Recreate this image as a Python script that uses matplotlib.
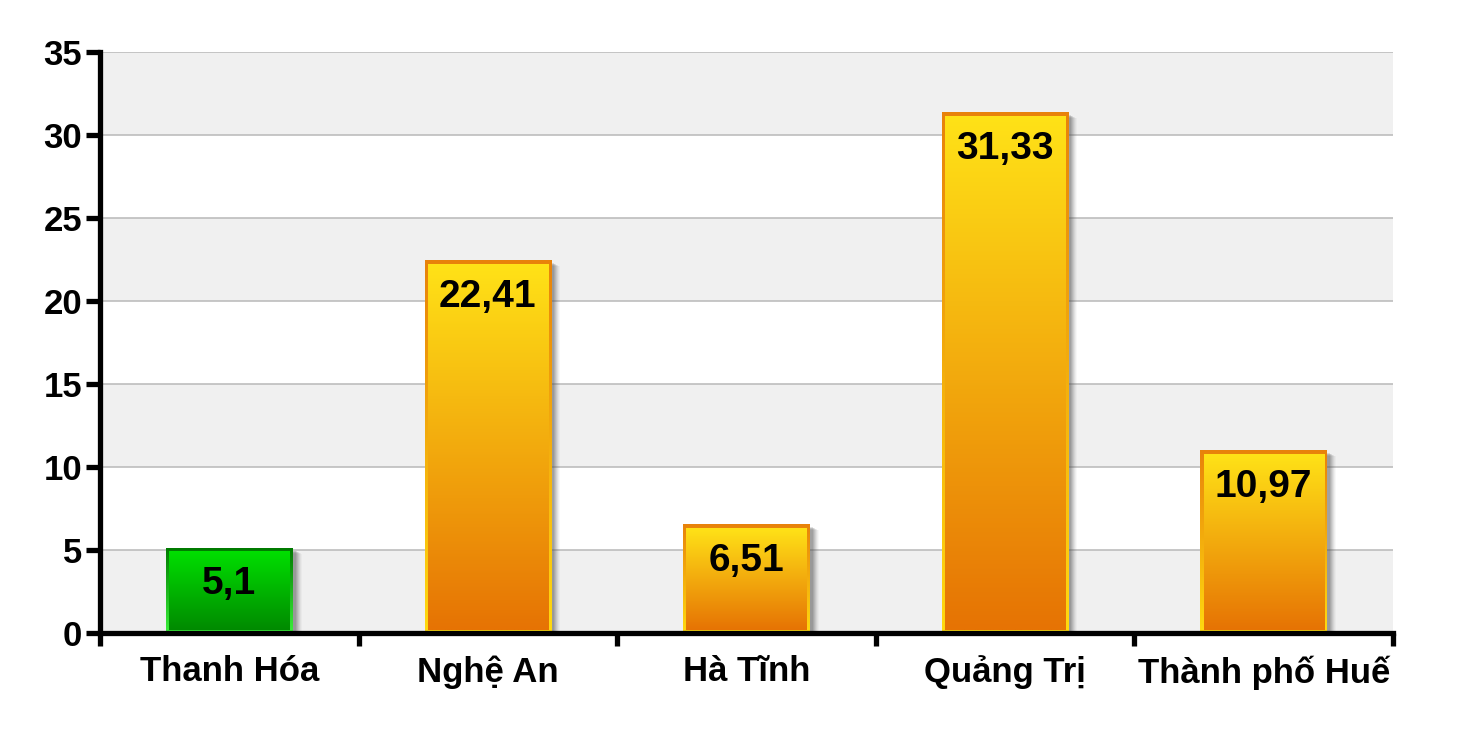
import matplotlib
matplotlib.use("Agg")
import matplotlib.pyplot as plt
import numpy as np
from matplotlib.colors import to_rgb
from matplotlib.patches import Rectangle

categories = ["Thanh Hóa", "Nghệ An", "Hà Tĩnh", "Quảng Trị", "Thành phố Huế"]
values = [5.1, 22.41, 6.51, 31.33, 10.97]
labels = ["5,1", "22,41", "6,51", "31,33", "10,97"]
is_green = [True, False, False, False, False]
yticks = [0, 5, 10, 15, 20, 25, 30, 35]

plt.rcParams['font.family'] = ['Liberation Sans', 'DejaVu Sans']

W, H = 1471, 729
fig = plt.figure(figsize=(W / 100, H / 100), dpi=100)
L, R, T, B = 100, 1393, 52, 633
ax = fig.add_axes([L / W, (H - B) / H, (R - L) / W, (B - T) / H])
ax.set_xlim(-0.5, len(categories) - 0.5)
ax.set_ylim(0, 35)

px_x = (len(categories)) / (R - L)   # data units per pixel (x)
px_y = 35 / (B - T)                  # data units per pixel (y)

# background bands
for i, y0 in enumerate(range(0, 35, 5)):
    if i % 2 == 0:
        ax.axhspan(y0, y0 + 5, color="#F0F0F0", zorder=0, lw=0)
for y in yticks[1:]:
    ax.axhline(y, color="#BDBDBD", lw=1.2, zorder=0.5)

def grad(ax, x0, x1, y0, y1, ctop, cbot, z):
    n = 256
    t = np.linspace(0, 1, n)[:, None]
    a, b = np.array(to_rgb(ctop)), np.array(to_rgb(cbot))
    img = (a[None, :] * (1 - t[..., None]) + b[None, :] * t[..., None])
    img = img.reshape(n, 1, 3)
    ax.imshow(img, extent=[x0, x1, y0, y1], origin="upper", aspect="auto",
              interpolation="bilinear", zorder=z)

bw = 0.49
bpx = 3.2  # border px
for i, (v, g) in enumerate(zip(values, is_green)):
    x0, x1 = i - bw / 2, i + bw / 2
    # shadow
    for k, a in zip(range(7, 0, -1), [0.04, 0.06, 0.08, 0.10, 0.12, 0.14, 0.16]):
        ax.add_patch(Rectangle((x0 + 2 * px_x, -k * px_y * 0.5),
                               bw + k * px_x, v - 2 * px_y, color="#505050",
                               alpha=a, lw=0, zorder=1))
    if g:
        fill_t, fill_b = "#00DF00", "#008A00"
        bord_t, bord_b = "#007A00", "#3AF03A"
    else:
        fill_t, fill_b = "#FFE217", "#E67304"
        bord_t, bord_b = "#E8820A", "#FFDA10"
    grad(ax, x0, x1, 0, v, bord_t, bord_b, 2)
    grad(ax, x0 + bpx * px_x, x1 - bpx * px_x, bpx * px_y, v - bpx * px_y,
         fill_t, fill_b, 3)
    ax.text(i, v - 36 * px_y, labels[i], ha="center", va="center",
            fontsize=28, fontweight="bold", color="black", zorder=5)

ax.set_xlim(-0.5, len(categories) - 0.5)
ax.set_ylim(0, 35)

for s in ["top", "right"]:
    ax.spines[s].set_visible(False)
for s in ["left", "bottom"]:
    ax.spines[s].set_linewidth(3.8)
    ax.spines[s].set_color("black")
    ax.spines[s].set_zorder(6)

ax.set_yticks(yticks)
ax.set_yticklabels([str(y) for y in yticks])
ax.tick_params(axis="y", length=10, width=3.8, pad=3, labelsize=25,
               direction="out")
for t in ax.get_yticklabels():
    t.set_fontweight("bold")

ax.set_xticks(range(len(categories)))
ax.set_xticklabels(categories)
ax.set_xticks(np.arange(-0.5, len(categories)), minor=True)
ax.tick_params(axis="x", which="major", length=0, pad=16, labelsize=25)
ax.tick_params(axis="x", which="minor", length=9, width=3.8, direction="out")
for t in ax.get_xticklabels():
    t.set_fontweight("bold")

fig.savefig("out.png", dpi=100)
